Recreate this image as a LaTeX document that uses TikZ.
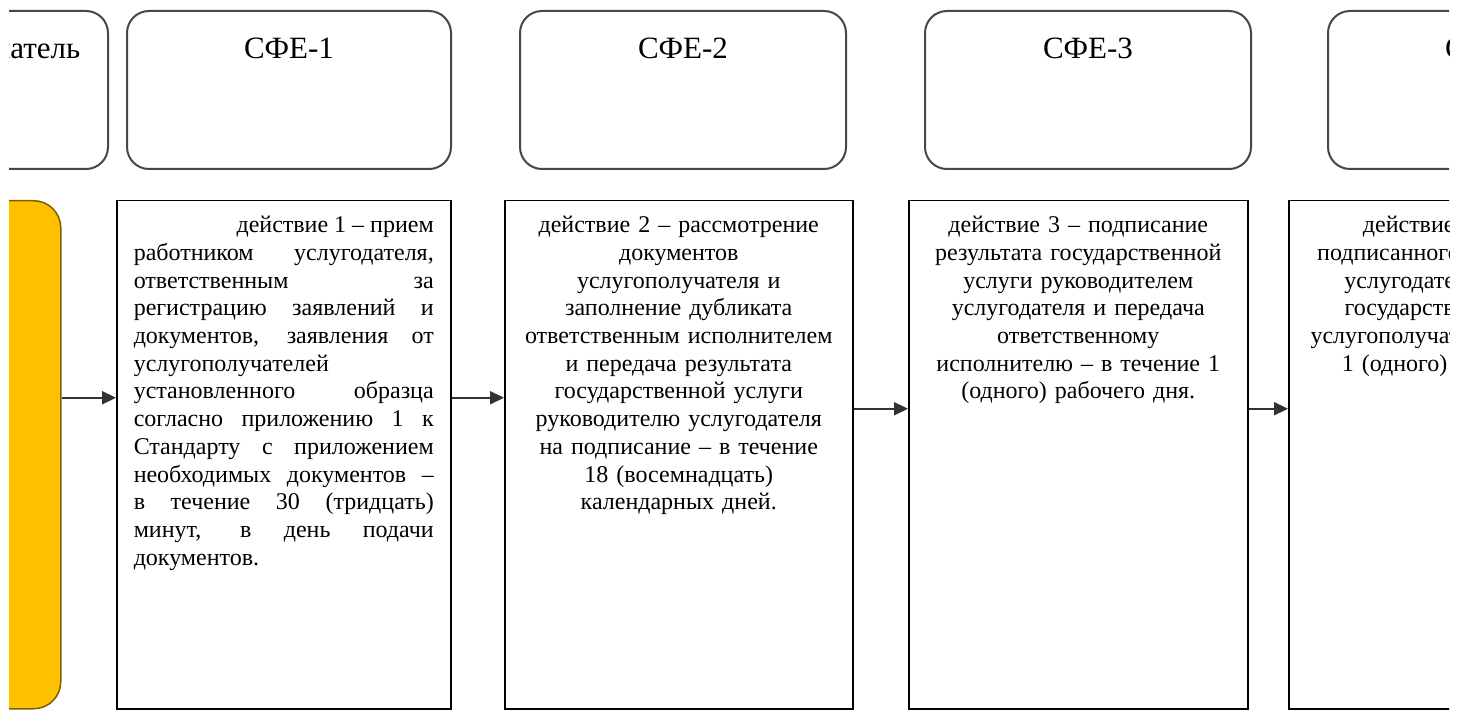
\documentclass[tikz,border=0pt]{standalone}
\usepackage{fontspec}
\setmainfont{Liberation Serif}
\usetikzlibrary{arrows.meta,positioning}
\definecolor{startfill}{HTML}{FFC000}
\definecolor{startdraw}{HTML}{7F6000}
\definecolor{lanedraw}{HTML}{474747}
\definecolor{flowgray}{HTML}{333333}
\sloppy
\hyphenpenalty=10000

\begin{document}
\begin{tikzpicture}[x=0.5pt,y=-0.5pt,
	>={Triangle[length=7pt,width=6.5pt]},
	font=\fontsize{12}{13.85}\selectfont]

	\tikzstyle{lane}=[rectangle, rounded corners=11pt,
	draw=lanedraw, line width=1pt, fill=white, anchor=north west,
	inner sep=0pt, text height=24pt, text depth=55pt, align=center,
	font=\fontsize{15.5}{18}\selectfont]

	\tikzstyle{action}=[rectangle, draw=black, line width=0.75pt,
	fill=white, anchor=north west, inner ysep=0pt,
	text height=16pt, text depth=238pt, align=center]

	\tikzstyle{flow}=[->, draw=flowgray, line width=1.1pt]

	\useasboundingbox (0,0) rectangle (1467,711);
	\fill[white] (0,0) rectangle (1467,711);
	\clip (9,0) rectangle (1449,711);

	%lanes
	\node[lane, minimum width=147pt]
	(lane0) at (-187,10)
	{Услугополучатель};

	\node[lane, minimum width=162pt]
	(lane1) at (126,10)
	{СФЕ-1};

	\node[lane, minimum width=163pt]
	(lane2) at (519,10)
	{СФЕ-2};

	\node[lane, minimum width=163pt]
	(lane3) at (924,10)
	{СФЕ-3};

	\node[lane, minimum width=162pt]
	(lane4) at (1327,10)
	{СФЕ-4};

	%start
	\node[action, fill=startfill, draw=startdraw, rounded corners=13.5pt,
	inner xsep=0pt, minimum width=105pt]
	(start) at (-150,200)
	{};

	%actions
	\node[action, text width=150pt, inner xsep=8.5pt, align=justify]
	(act1) at (116,200)
	{\hfill действие 1 – прием\linebreak
	работником услугодателя,\linebreak
	ответственным за\linebreak
	регистрацию заявлений и\linebreak
	документов, заявления от\linebreak
	услугополучателей\newline
	установленного образца\linebreak
	согласно приложению 1 к\linebreak
	Стандарту с приложением\linebreak
	необходимых документов –\linebreak
	в течение 30 (тридцать)\linebreak
	минут, в день подачи\linebreak
	документов.};

	\node[action, text width=156pt, inner xsep=9pt]
	(act2) at (504,200)
	{действие 2 – рассмотрение\\
	документов\\
	услугополучателя и\\
	заполнение дубликата\\
	ответственным исполнителем\\
	и передача результата\\
	государственной услуги\\
	руководителю услугодателя\\
	на подписание – в течение\\
	18 (восемнадцать)\\
	календарных дней.};

	\node[action, text width=152.5pt, inner xsep=8.5pt]
	(act3) at (908,200)
	{действие 3 – подписание\\
	результата государственной\\
	услуги руководителем\\
	услугодателя и передача\\
	ответственному\\
	исполнителю – в течение 1\\
	(одного) рабочего дня.};

	\node[action, text width=176pt, inner xsep=2pt]
	(act4) at (1288,200)
	{действие 4 – выдача\\
	подписанного руководителем\\
	услугодателя результата\\
	государственной услуги\\
	услугополучателю – в течение\\
	1 (одного) рабочего дня.};

	\draw[flow] ([yshift=28.5pt]start.east) -- ([yshift=28.5pt]act1.west);
	\draw[flow] ([yshift=28.5pt]act1.east) -- ([yshift=28.5pt]act2.west);
	\draw[flow] ([yshift=23pt]act2.east) -- ([yshift=23pt]act3.west);
	\draw[flow] ([yshift=23pt]act3.east) -- ([yshift=23pt]act4.west);

\end{tikzpicture}
\end{document}
